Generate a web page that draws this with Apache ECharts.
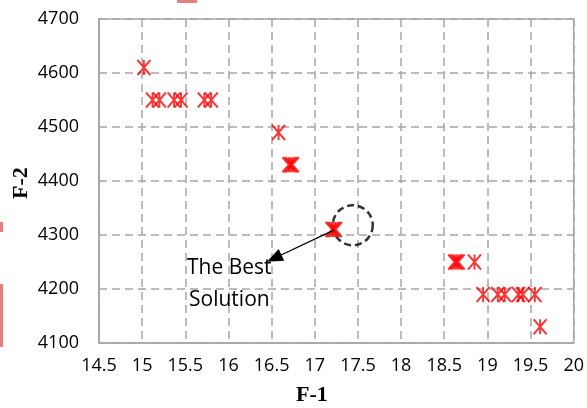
<!DOCTYPE html>
<html>
<head>
<meta charset="utf-8">
<script src="https://cdn.jsdelivr.net/npm/echarts@6/dist/echarts.min.js"></script>
<style>html,body{margin:0;padding:0;background:#fff}#c{width:587px;height:408px}</style>
</head>
<body>
<div id="c"></div>
<script>
// Data
var f1Values = [15.02, 15.12, 15.2, 15.37, 15.45, 15.72, 15.8, 16.58, 16.7, 16.72, 16.74, 17.2, 17.22, 17.24, 18.62, 18.64, 18.66, 18.85, 18.95, 19.12, 19.2, 19.36, 19.41, 19.55, 19.61];
var f2Values = [4610, 4550, 4550, 4550, 4550, 4550, 4550, 4490, 4430, 4430, 4430, 4310, 4310, 4310, 4250, 4250, 4250, 4250, 4190, 4190, 4190, 4190, 4190, 4190, 4130];
var xTicks = {min: 14.5, max: 20, interval: 0.5};
var yTicks = {min: 4100, max: 4700, interval: 100};
var bestPoint = [17.44, 4318];
var arrowFrom = [17.22, 4309];
var arrowTo = [16.53, 4257];
var noteAt = [16.01, 4209];
var noteText = 'The Best\nSolution';

var points = f1Values.map(function (x, i) { return [x, f2Values[i]]; });
var gridColor = '#a6a6a6';
var font = '"Open Sans", sans-serif';

var chart = echarts.init(document.getElementById('c'));
chart.setOption({
  animation: false,
  backgroundColor: '#fff',
  grid: {left: 99, right: 11, top: 19, bottom: 65, show: true, borderColor: gridColor, borderWidth: 1.5, backgroundColor: 'transparent'},
  xAxis: {
    type: 'value', min: xTicks.min, max: xTicks.max, interval: xTicks.interval,
    axisLine: {show: true, lineStyle: {color: gridColor, width: 1.5}},
    axisTick: {show: false},
    axisLabel: {color: '#000', fontFamily: font, fontSize: 18, margin: 14, formatter: function (v) { return String(v); }},
    splitLine: {show: true, lineStyle: {color: gridColor, width: 1.5, type: [8, 5]}}
  },
  yAxis: {
    type: 'value', min: yTicks.min, max: yTicks.max, interval: yTicks.interval,
    axisLine: {show: true, lineStyle: {color: gridColor, width: 1.5}},
    axisTick: {show: false},
    axisLabel: {color: '#000', fontFamily: font, fontSize: 18, margin: 20, formatter: function (v) { return String(v); }},
    splitLine: {show: true, lineStyle: {color: gridColor, width: 1.5, type: [8, 5]}}
  },
  series: [
    {
      type: 'scatter',
      data: points,
      symbol: 'path://M0,0L12,14M12,0L0,14M6,0L6,14',
      symbolSize: [13, 15],
      itemStyle: {color: 'rgba(0,0,0,0)', borderColor: '#ff0000', borderWidth: 2},
      markLine: {
        silent: true,
        symbol: ['none', 'triangle'],
        symbolSize: [13, 16],
        label: {show: false},
        lineStyle: {color: '#000', width: 1.2, type: 'solid'},
        data: [[{coord: arrowFrom}, {coord: arrowTo}]]
      },
      markPoint: {
        silent: true,
        symbol: 'circle',
        symbolSize: 1,
        itemStyle: {color: 'rgba(0,0,0,0)'},
        label: {show: true, position: 'inside', formatter: noteText, color: '#000', fontFamily: font, fontSize: 21, lineHeight: 32},
        data: [{coord: noteAt}]
      },
      z: 3
    },
    {
      type: 'scatter',
      data: [bestPoint],
      symbol: 'circle',
      symbolSize: 40,
      silent: true,
      itemStyle: {color: 'rgba(0,0,0,0)', borderColor: '#000', borderWidth: 2.5, borderType: [7, 4]},
      z: 2
    }
  ],
  graphic: [
    {type: 'text', left: 296, top: 384, style: {text: 'F-1', font: 'bold 22px "Liberation Serif", serif', fill: '#000'}},
    {type: 'text', x: 10, y: 199, rotation: Math.PI / 2, style: {text: 'F-2', font: 'bold 22px "Liberation Serif", serif', fill: '#000'}},
    {type: 'rect', shape: {x: 177, y: 0, width: 20, height: 3}, style: {fill: '#e58080'}},
    {type: 'rect', shape: {x: 0, y: 222, width: 3, height: 10}, style: {fill: '#e58080'}},
    {type: 'rect', shape: {x: 0, y: 284, width: 3, height: 63}, style: {fill: '#e58080'}}
  ]
});
</script>
</body>
</html>
